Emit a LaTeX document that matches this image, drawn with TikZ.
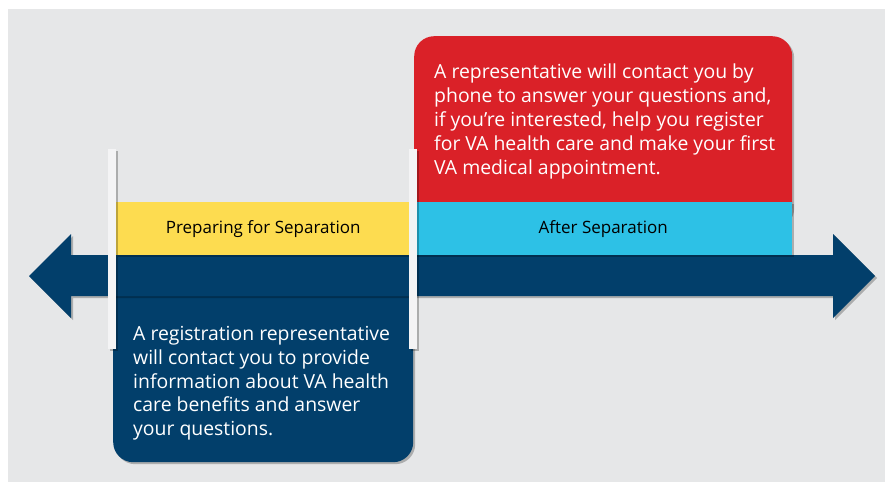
\documentclass[tikz,border=0pt]{standalone}
\usepackage{fontspec}
\setmainfont{Open Sans}
\usetikzlibrary{shadows}
\definecolor{vanavy}{HTML}{023F6B}
\definecolor{vayellow}{HTML}{FDDC50}
\definecolor{vacyan}{HTML}{2DC1E6}
\definecolor{vared}{HTML}{DA2128}
\definecolor{vagray}{HTML}{E6E7E8}
\tikzset{
  softshadow/.style={drop shadow={shadow xshift=2pt, shadow yshift=-2pt, opacity=.25, fill=black}},
  box/.style={softshadow, rounded corners=20pt, inner sep=0pt, anchor=north west},
  band/.style={softshadow, inner sep=0pt, anchor=north west, minimum height=53pt},
  bandlabel/.style={font=\fontsize{17}{19}\selectfont, text=black},
  boxtext/.style={font=\fontsize{19.4}{23.8}\selectfont, text=white, align=left, inner sep=0pt, anchor=north west},
  stopbar/.style={fill=white!55!vagray, softshadow, inner sep=0pt, anchor=north west, minimum width=8pt, minimum height=200pt}
}
\begin{document}
\begin{tikzpicture}[x=1pt, y=-1pt]
    \useasboundingbox (0,0) rectangle (885,482);
    \fill[vagray] (8,9) rectangle (885,482);

    % Boxes behind the timeline
    \node[box, fill=vanavy, minimum width=300pt, minimum height=190pt] (navybox) at (113,272) {};
    \node[box, fill=vared, minimum width=378pt, minimum height=190pt] (redbox) at (414,36) {};

    % Timeline arrow
    \fill[vanavy, softshadow] (29,276) -- (71,234) -- (71,255) -- (833,255) -- (833,234)
        -- (875,276) -- (833,318) -- (833,296) -- (71,296) -- (71,318) -- cycle;

    % Phases
    \node[band, fill=vayellow, minimum width=294pt] (prep) at (116,202) {};
    \node[band, fill=vacyan, minimum width=378pt] (after) at (414,202) {};
    \node[bandlabel] at (prep.center) {Preparing for Separation};
    \node[bandlabel] at (after.center) {After Separation};

    % Separation markers
    \node[stopbar] (leftbar) at (108,149) {};
    \node[stopbar] (rightbar) at (409,149) {};

    % Box texts
    \node[boxtext] (redtext) at (434,64) {A representative will contact you by\\
        phone to answer your questions and,\\
        if you’re interested, help you register\\
        for VA health care and make your first\\
        VA medical appointment.};
    \node[boxtext] (navytext) at (133,326) {A registration representative\\
        will contact you to provide\\
        information about VA health\\
        care benefits and answer\\
        your questions.};
\end{tikzpicture}
\end{document}
